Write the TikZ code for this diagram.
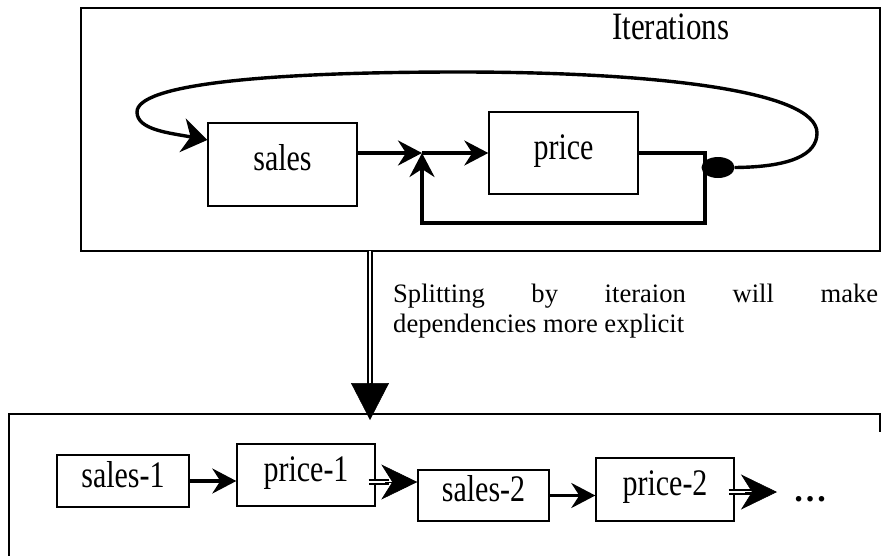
\documentclass[tikz,border=0pt]{standalone}
\usepackage{fontspec}
\setmainfont{Liberation Serif}
\usetikzlibrary{arrows.meta,shapes.geometric,calc}
\begin{document}
\begin{tikzpicture}[x=1pt,y=-1pt,
  frame/.style={draw,line width=1.5pt,inner sep=0pt},
  blk/.style={draw,line width=1.4pt,inner sep=0pt,
    font=\fontsize{30}{36}\selectfont,text height=20pt,text depth=8pt},
  flow/.style={line width=3.4pt},
  barb/.style={-{Stealth[length=24pt,width=25pt,inset=8pt]}},
  dbl/.style={double,line width=1.7pt,double distance=2pt},
  bighead/.style={-{Stealth[length=36pt,width=35pt,inset=11pt]},line width=0.6pt},
]
\useasboundingbox (0,0) rectangle (889,555);

% upper frame with the iteration loop
\node[frame,minimum width=799pt,minimum height=243pt] (iterbox) at (480.5,129.5) {};
\node[anchor=base west,inner sep=0pt,font=\fontsize{31}{36}\selectfont]
  (itlabel) at (612,39) {\scalebox{1}[1.25]{Iterations}};

\node[blk,minimum width=149pt,minimum height=83pt] (sales) at (282.5,164.5) {\scalebox{1}[1.25]{sales}};
\node[blk,minimum width=149pt,minimum height=82pt] (price) at (563.5,153) {\scalebox{1}[1.25]{price}};
\coordinate (j) at (422,153);
\node[ellipse,fill=black,inner sep=0pt,minimum width=33pt,minimum height=21pt] (tap) at (718,167.5) {};

\draw[flow,barb] (sales.east |- j) -- (j);
\draw[flow,barb] (j) -- (price.west);
\draw[flow,barb,line join=miter] (price.east) -- (705,153) -- (705,223) -- (422,223) -- (j);
\draw[flow,-{Stealth[length=25pt,width=34pt,inset=8pt]}]
  (tap.east) .. controls (790,167) and (817,155) .. (817,133)
  .. controls (817,90) and (650,72) .. (460,72)
  .. controls (260,72) and (137,85) .. (137,112)
  .. controls (137,130) and (170,133) .. ([yshift=24.5pt]sales.west);

% splitting arrow and its caption
\coordinate (vtop) at (370,251);
\coordinate (vtip) at (370,420);
\draw[double,line width=2pt,double distance=2.4pt] (vtop) -- ($(vtip)+(0,-34)$);
\draw[-{Triangle[length=37pt,width=38pt]},line width=0.5pt] ($(vtip)+(0,-36)$) -- (vtip);
\node[anchor=base west,inner sep=0pt,font=\fontsize{26.6}{30}\selectfont] (caption) at (393,302)
  {\parbox[t]{485pt}{\makebox[485pt][s]{Splitting by iteraion will make}\\dependencies more explicit}};

% lower frame, running past the page edge
\draw[line width=1.5pt] (9,570) -- (9,414) -- (880,414) -- (880,432);

\node[blk,minimum width=132pt,minimum height=52pt] (sales1) at (123,481) {\scalebox{1}[1.25]{sales-1}};
\node[blk,minimum width=138pt,minimum height=62pt] (price1) at (306,475) {\scalebox{1}[1.25]{price-1}};
\node[blk,minimum width=131pt,minimum height=51pt] (sales2) at (483.5,495.5) {\scalebox{1}[1.25]{sales-2}};
\node[blk,minimum width=138pt,minimum height=63pt] (price2) at (665,489.5) {\scalebox{1}[1.25]{price-2}};
\node[anchor=base,inner sep=0pt,font=\fontsize{34}{40}\selectfont] (dots) at (810,501) {\textbf{…}};
\coordinate (more) at (777,492);

\draw[flow,barb] (sales1.east) -- (sales1.east -| price1.west);
\draw[flow,barb] (sales2.east) -- (sales2.east -| price2.west);

\coordinate (p1out) at ([shift={(-7,7)}]price1.east);
\draw[dbl] (p1out) -- ($(p1out -| sales2.west)+(-28,0)$);
\draw[bighead] ($(p1out -| sales2.west)+(-32,0)$) -- (p1out -| sales2.west);
\coordinate (p2out) at ([shift={(-6,2.5)}]price2.east);
\draw[dbl] (p2out) -- ($(more)+(-26,0)$);
\draw[bighead] ($(more)+(-32,0)$) -- (more);
\end{tikzpicture}
\end{document}
